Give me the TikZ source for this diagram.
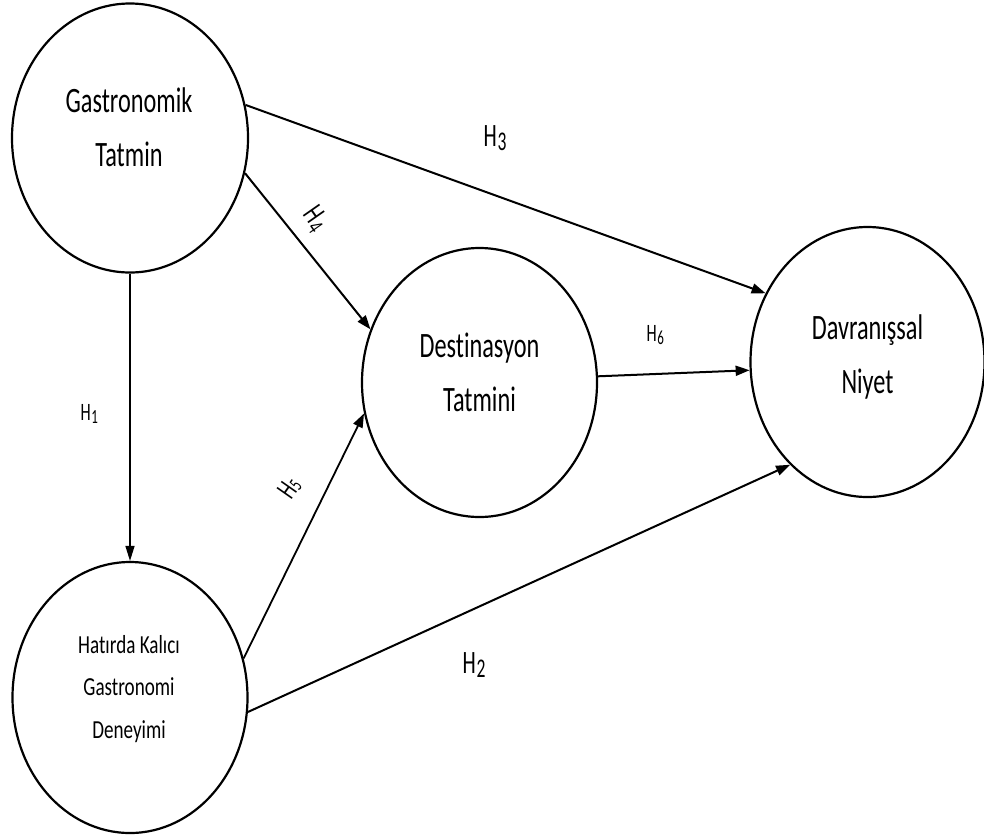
\documentclass[tikz,border=0pt]{standalone}
\usepackage{fontspec}
\usetikzlibrary{arrows.meta,shapes.geometric}
\newfontfamily\lblA{Carlito}[FakeStretch=0.68,RawFeature=-liga]
\newfontfamily\lblB{Carlito}[FakeStretch=0.735,RawFeature=-liga]
\newfontfamily\lblH{Carlito}[FakeStretch=0.65]
\newcommand\hsub[3]{\kern0.6pt\raisebox{-#3pt}{\fontsize{#1}{#1}\selectfont #2}}
\begin{document}
\begin{tikzpicture}[x=1pt,y=-1pt,
  latent/.style={draw, line width=2.2pt, ellipse, inner sep=0pt},
  bigtxt/.style={align=center, inner sep=0pt, font=\lblA\fontsize{35.7}{54}\selectfont},
  smalltxt/.style={align=center, inner sep=0pt, font=\lblB\fontsize{26}{42.5}\selectfont},
  hbig/.style={inner sep=0pt, anchor=base west, font=\lblH\fontsize{32.6}{34}\selectfont},
  hsmall/.style={inner sep=0pt, anchor=base west, font=\lblH\fontsize{25}{27}\selectfont},
  hrot/.style={inner sep=0pt, font=\lblH\fontsize{31}{33}\selectfont},
  arr/.style={line width=2pt, -{Triangle[length=14pt,width=10pt]}},
]
\useasboundingbox (0,0) rectangle (984,839);
% latent constructs
\node[latent, minimum width=236pt, minimum height=269pt] (c1) at (130,138) {};
\node[latent, minimum width=235pt, minimum height=271pt] (c2) at (130,697.5) {};
\node[latent, minimum width=235pt, minimum height=269pt] (c3) at (479.5,382.5) {};
\node[latent, minimum width=234pt, minimum height=270pt] (c4) at (867.5,362) {};
% texts
\node[bigtxt] (t1) at (129,127) {Gastronomik\\Tatmin};
\node[smalltxt] (t2) at (129,689) {Hatırda Kalıcı\\Gastronomi\\Deneyimi};
\node[bigtxt] (t3) at (479.5,372) {Destinasyon\\Tatmini};
\node[bigtxt] (t4) at (867.5,357) {Davranışsal\\Niyet};
% paths
\draw[line width=1.4pt, -{Triangle[length=15pt,width=9pt]}] (c1.-90) -- (c2.90);
\draw[arr] (c1.16.7) -- (c4.146.2);
\draw[arr] (c1.-17) -- (c3.154.8);
\draw[line width=1.8pt, -{Triangle[length=14pt,width=10pt]}] (c2.19) -- (c3.-165.3);
\draw[arr] (c2.-7.8) -- (c4.233.2);
\draw[arr] (c3.3.9) -- (c4.184.4);
% hypothesis labels
\node[hsmall] (h1) at (80.5,420) {H\hsub{20}{1}{3}};
\node[hbig] (h2) at (462.5,673) {H\hsub{27}{2}{4.5}};
\node[hbig] (h3) at (483.5,146) {H\hsub{27}{3}{4.5}};
\node[hrot, rotate=-55] (h4) at (315,219) {H\hsub{24}{4}{4}};
\node[hrot, rotate=55, font=\lblH\fontsize{29}{31}\selectfont] (h5) at (289.5,488) {H\hsub{20}{5}{1}};
\node[hsmall] (h6) at (646.5,341.5) {H\hsub{20}{6}{2.5}};
\end{tikzpicture}
\end{document}
